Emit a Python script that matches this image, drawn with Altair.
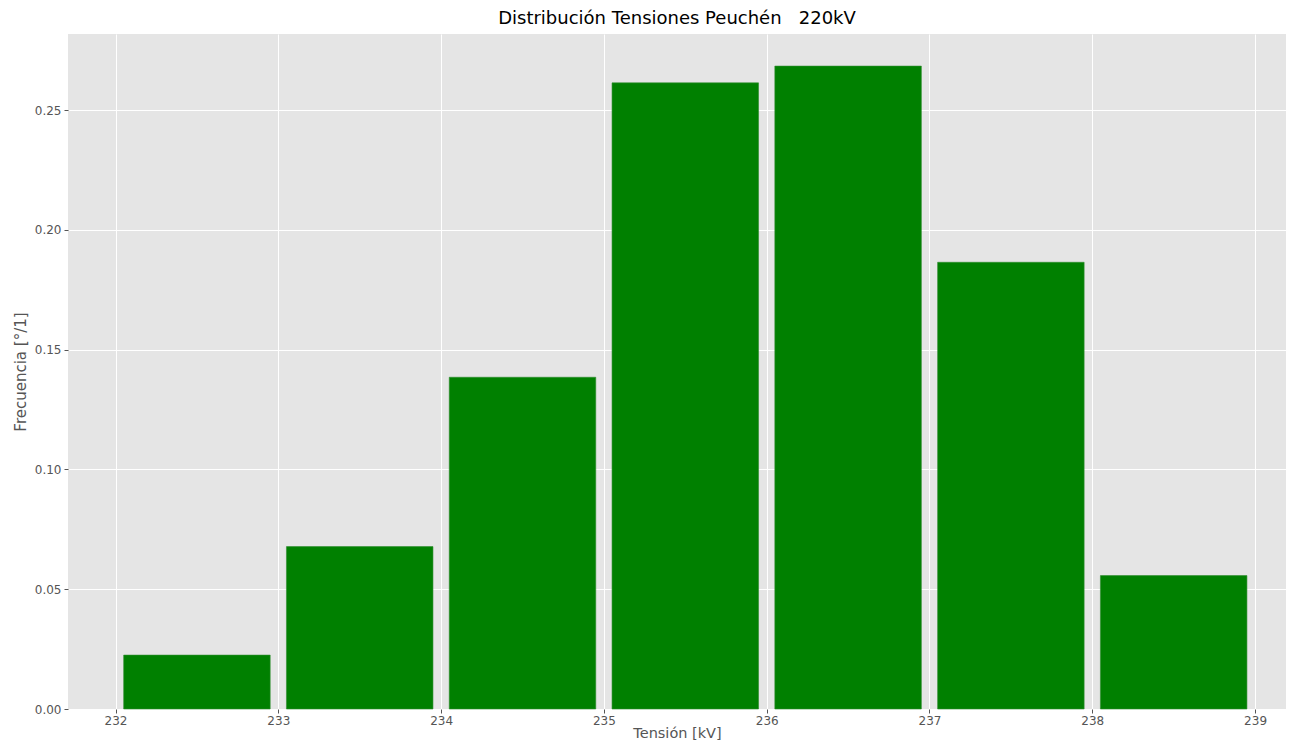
import altair as alt
import pandas as pd

bin_start = [232, 233, 234, 235, 236, 237, 238]
frequencies = [0.0225, 0.0678, 0.1385, 0.2614, 0.2684, 0.1865, 0.0557]
rwidth = 0.9
x_ticks = [232, 233, 234, 235, 236, 237, 238, 239]
y_ticks = [0.0, 0.05, 0.10, 0.15, 0.20, 0.25]

df = pd.DataFrame({
    "x0": [b + (1 - rwidth) / 2 for b in bin_start],
    "x1": [b + 1 - (1 - rwidth) / 2 for b in bin_start],
    "f": frequencies,
})

chart = alt.Chart(df).mark_bar(color="#008000", stroke="#2e8b2e", strokeWidth=0.6).encode(
    x=alt.X("x0:Q", title="Tensión [kV]",
            scale=alt.Scale(domain=[231.708, 239.19], nice=False, zero=False),
            axis=alt.Axis(values=x_ticks, format="d", titlePadding=0, titleFontSize=14.5,
                          labelPadding=2)),
    x2="x1:Q",
    y=alt.Y("f:Q", title="Frecuencia [°/1]",
            scale=alt.Scale(domain=[0, 0.2818], nice=False),
            axis=alt.Axis(values=y_ticks, format=".2f", titlePadding=6)),
    y2=alt.datum(0),
).properties(
    width=1218, height=675,
    title=alt.TitleParams("Distribución Tensiones Peuchén\u00a0\u00a0\u00a0220kV", fontSize=18,
                          font="DejaVu Sans", fontWeight="normal", color="#000000",
                          offset=6),
    autosize=alt.AutoSizeParams(type="none"),
    padding={"left": 60, "top": 26, "right": 0, "bottom": 38},
).configure_view(
    fill="#E5E5E5", stroke=None
).configure_axis(
    grid=True, gridColor="#FFFFFF", gridWidth=1,
    domain=False, tickColor="#555555", tickSize=4,
    labelFont="DejaVu Sans", labelFontSize=12, labelColor="#555555",
    titleFont="DejaVu Sans", titleFontSize=15, titleColor="#555555",
    titleFontWeight="normal", labelPadding=3,
)

chart.save("out.html", embed_options={"renderer": "svg", "actions": False})
